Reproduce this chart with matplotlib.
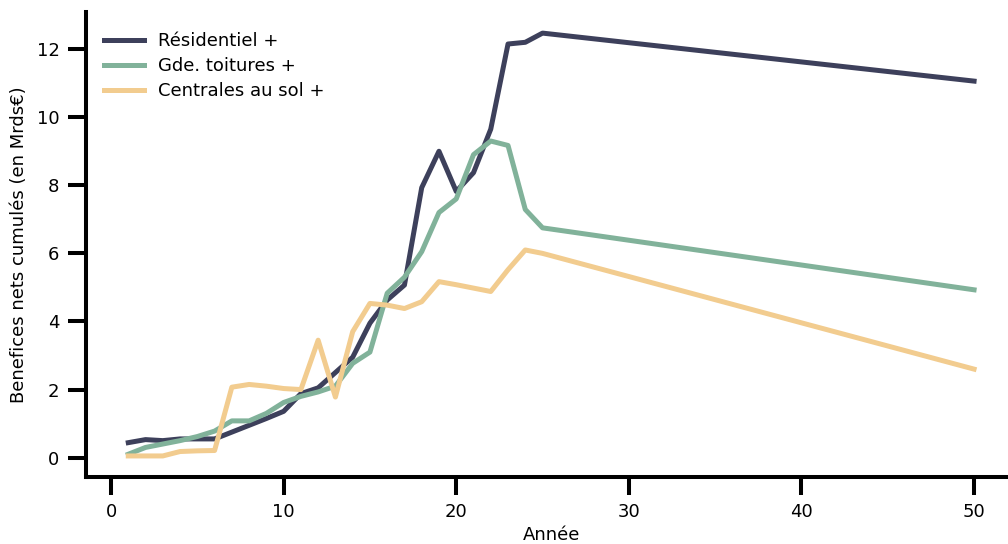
import matplotlib
matplotlib.use("Agg")
import matplotlib.pyplot as plt

# annees 1..25 puis 50
annees = list(range(1, 26)) + [50]

residentiel = [0.44, 0.53, 0.50, 0.55, 0.55, 0.55, 0.75, 0.95, 1.15, 1.36,
               1.88, 2.05, 2.50, 2.95, 3.95, 4.63, 5.07, 7.93, 9.00, 7.82,
               8.37, 9.65, 12.15, 12.20, 12.47, 11.06]
toitures = [0.10, 0.30, 0.40, 0.50, 0.62, 0.78, 1.08, 1.08, 1.30, 1.62,
            1.80, 1.93, 2.10, 2.77, 3.10, 4.83, 5.30, 6.05, 7.20, 7.60,
            8.90, 9.30, 9.17, 7.29, 6.75, 4.93]
centrales = [0.05, 0.05, 0.05, 0.18, 0.20, 0.21, 2.07, 2.15, 2.10, 2.03,
             2.00, 3.45, 1.78, 3.70, 4.53, 4.48, 4.38, 4.58, 5.17, 5.08,
             4.98, 4.88, 5.52, 6.10, 6.00, 2.60]

series = [("Résidentiel +", residentiel, "#3d405b"),
          ("Gde. toitures +", toitures, "#81b29a"),
          ("Centrales au sol +", centrales, "#f2cc8f")]

plt.rcParams['font.family'] = ['DejaVu Sans']
fig = plt.figure(figsize=(10.08, 5.44), dpi=100)
ax = fig.add_axes([0.0853, 0.123, 0.923, 0.855])

for nom, vals, col in series:
    ax.plot(annees, vals, color=col, lw=3.6, label=nom)

ax.spines['top'].set_visible(False)
ax.spines['right'].set_visible(False)
for s in ['left', 'bottom']:
    ax.spines[s].set_linewidth(2.9)
ax.tick_params(axis='both', length=13, width=2.9, labelsize=13, pad=6)
ax.set_yticks([0, 2, 4, 6, 8, 10, 12])
ax.set_xticks([0, 10, 20, 30, 40, 50])

ax.set_xlabel("Année", fontsize=13, labelpad=3)
ax.set_ylabel("Benefices nets cumulés (en Mrds€)", fontsize=13, labelpad=6)

ax.legend(loc='upper left', frameon=False, fontsize=13, handlelength=2.2,
          borderaxespad=0.7, labelspacing=0.4, bbox_to_anchor=(-0.002, 1.0))

fig.savefig("out.png", dpi=100)
